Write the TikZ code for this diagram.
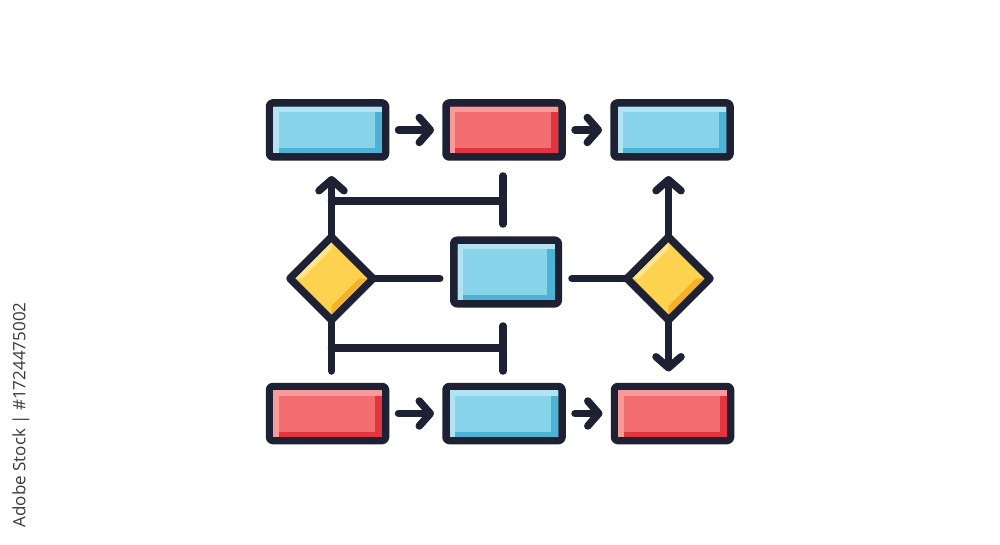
\documentclass[tikz,border=0pt]{standalone}
\usepackage{fontspec}
\newfontfamily\wmfont{Open Sans}
\usetikzlibrary{shapes.geometric,arrows.meta,calc}
\definecolor{navy}{HTML}{1D2133}
\definecolor{bmain}{HTML}{88D4EA}
\definecolor{blight}{HTML}{B3E3F2}
\definecolor{bdark}{HTML}{4DB3D5}
\definecolor{rmain}{HTML}{F26D70}
\definecolor{rlight}{HTML}{F69A9B}
\definecolor{rdark}{HTML}{E2353F}
\definecolor{ymain}{HTML}{FDD24F}
\definecolor{ylight}{HTML}{FEE48A}
\definecolor{ydark}{HTML}{F6B12A}
\definecolor{wmgray}{HTML}{3A3A3A}
\pgfdeclarelayer{back}
\pgfdeclarelayer{bg}
\pgfsetlayers{back,bg,main}
\tikzset{
  ln/.style={line width=7.5pt, draw=navy, line cap=round, line join=round},
  arr/.style={ln, -{Straight Barb[length=11pt,width=25pt,round]}},
  boxbase/.style={ln, rectangle, rounded corners=3pt, inner sep=0pt, outer sep=0pt,
    minimum width=116pt, minimum height=54pt},
  bluebox/.style={boxbase, fill=bmain},
  redbox/.style={boxbase, fill=rmain},
  dia/.style={ln, diamond, aspect=1, inner sep=0pt, outer sep=0pt,
    minimum width=83pt, minimum height=83pt, fill=ymain},
}
\newcommand\boxshade[3]{%
  \fill[#2] ($(#1.north west)+(3.75,3.75)$) rectangle ($(#1.north east)+(-3.75,9)$);
  \fill[#2] ($(#1.north west)+(3.75,3.75)$) rectangle ($(#1.south west)+(9,-3.75)$);
  \fill[#3] ($(#1.north east)+(-11,9)$) rectangle ($(#1.south east)+(-3.75,-3.75)$);
  \fill[#3] ($(#1.south west)+(9,-9)$) rectangle ($(#1.south east)+(-3.75,-3.75)$);
}
\newcommand\diashade[1]{%
  \fill[ylight] ($(#1.west)+(5.3,0)$) -- ($(#1.north)+(0,5.3)$) -- ($(#1.north)+(0,12)$) -- ($(#1.west)+(12,0)$) -- cycle;
  \fill[ydark] ($(#1.south)+(0,-5.3)$) -- ($(#1.east)+(-5.3,0)$) -- ($(#1.east)+(-14,0)$) -- ($(#1.south)+(0,-14)$) -- cycle;
}
\begin{document}
\begin{tikzpicture}[x=1pt,y=-1pt]
\begin{pgfonlayer}{back}
\fill[white] (0,0) rectangle (1000,545);
\end{pgfonlayer}
\useasboundingbox (0,0) rectangle (1000,545);
% nodes
\node[bluebox] (b1) at (327.5,130) {};
\node[redbox]  (b2) at (504,130) {};
\node[bluebox] (b3) at (672,130) {};
\node[boxbase, fill=bmain, minimum width=104.5pt, minimum height=63.5pt] (mb) at (506,272) {};
\node[dia] (d1) at (331.5,278.5) {};
\node[dia] (d2) at (668.5,278.5) {};
\node[redbox]  (b4) at (327.5,413.5) {};
\node[bluebox] (b5) at (504,413.5) {};
\node[redbox]  (b6) at (672.5,413.5) {};
\boxshade{b1}{blight}{bdark}
\boxshade{b2}{rlight}{rdark}
\boxshade{b3}{blight}{bdark}
\boxshade{mb}{blight}{bdark}
\boxshade{b4}{rlight}{rdark}
\boxshade{b5}{blight}{bdark}
\boxshade{b6}{rlight}{rdark}
\diashade{d1}
\diashade{d2}
% bracket coordinates
\coordinate (tt) at (503,176);
\coordinate (tm) at (503,201);
\coordinate (tb) at (503,224);
\coordinate (bt) at (503,326);
\coordinate (bm) at (503,348);
\coordinate (bb) at (503,371);
\begin{pgfonlayer}{bg}
\draw[arr, shorten <=13pt, shorten >=12pt] (b1.east) -- (b2.west);
\draw[arr, shorten <=13pt, shorten >=12pt] (b2.east) -- (b3.west);
\draw[arr, shorten <=13pt, shorten >=12pt] (b4.east) -- (b5.west);
\draw[arr, shorten <=13pt, shorten >=12pt] (b5.east) -- (b6.west);
\draw[arr, shorten >=19pt] (d1.north) -- (d1.north |- b1.south);
\draw[ln, shorten >=15.5pt] (d1.south) -- (d1.south |- b4.north);
\draw[arr, shorten >=19pt] (d2.north) -- (d2.north |- b3.south);
\draw[arr, shorten >=15pt] (d2.south) -- (d2.south |- b6.north);
\draw[ln] (tt) -- (tb);
\draw[ln] (tm -| d1.north) -- (tm);
\draw[ln] (bt) -- (bb);
\draw[ln] (bm -| d1.south) -- (bm);
\draw[ln, shorten >=14pt] (d1.east) -- (d1.east -| mb.west);
\draw[ln, shorten <=13.75pt] (d2.west -| mb.east) -- (d2.west);
\end{pgfonlayer}
\node[rotate=90, text=wmgray, font=\wmfont\fontsize{17}{20}\selectfont] (wm) at (21,415) {Adobe Stock | \#1724475002};
\end{tikzpicture}
\end{document}
